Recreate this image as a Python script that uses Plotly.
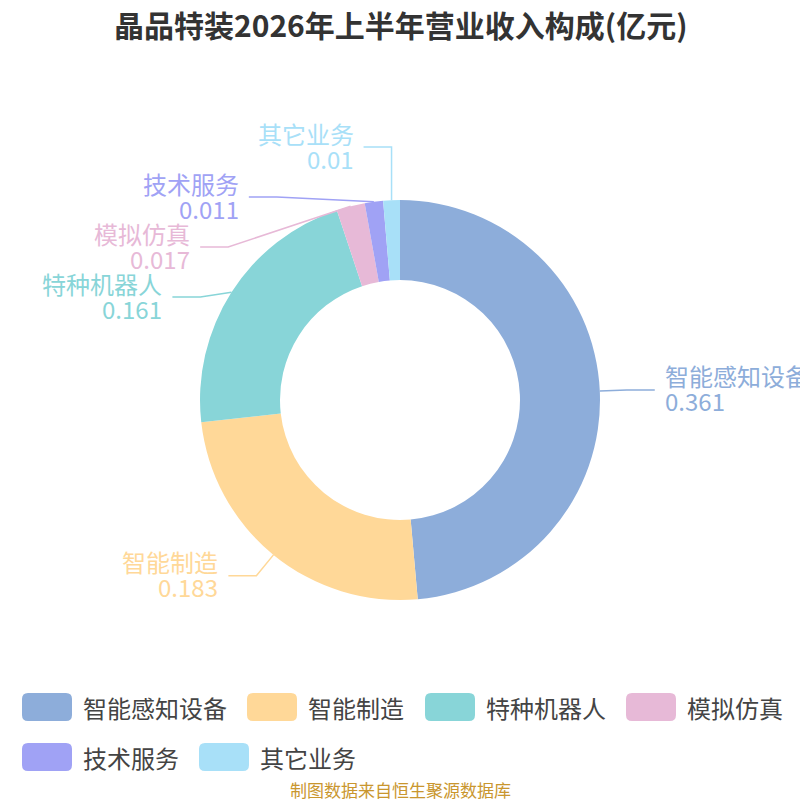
import math
import plotly.graph_objects as go

title = "晶品特装2026年上半年营业收入构成(亿元)"
labels = ["智能感知设备", "智能制造", "特种机器人", "模拟仿真", "技术服务", "其它业务"]
values = [0.361, 0.183, 0.161, 0.017, 0.011, 0.01]
value_text = ["0.361", "0.183", "0.161", "0.017", "0.011", "0.01"]
colors = ["#8DADDA", "#FFD898", "#88D5D8", "#E7B9D7", "#A0A2F5", "#A8E0F8"]
source = "制图数据来自恒生聚源数据库"

W, H = 800, 800
CX, CY, R = 400, 400, 200
FONT = "Noto Sans CJK SC"


def px(x):
    return x / W


def py(y):
    return 1 - y / H


fig = go.Figure()
fig.add_trace(go.Pie(
    labels=labels, values=values,
    hole=0.6, sort=False, direction="clockwise", rotation=0,
    marker=dict(colors=colors, line=dict(width=0)),
    textinfo="none", hoverinfo="label+value+percent",
    showlegend=False,
    domain=dict(x=[px(CX - R), px(CX + R)], y=[py(CY + R), py(CY - R)]),
))

# label placement (echarts-like: radial leg, then horizontal leg)
total = sum(values)
len1, len2, gap = 27, 28, 8
ra, rb = R + 20, R + 45
items = []
cum = 0
for i, v in enumerate(values):
    mid = (cum + v / 2) / total * 2 * math.pi
    cum += v
    ax, ay = CX + R * math.sin(mid), CY - R * math.cos(mid)
    ex, ey = CX + (R + len1) * math.sin(mid), CY - (R + len1) * math.cos(mid)
    side = 1 if math.sin(mid) >= 0 else -1
    items.append(dict(i=i, ax=ax, ay=ay, ex=ex, ey=ey, side=side, y0=ey))

min_gap, top_limit = 50, 147
for side in (1, -1):
    grp = sorted([it for it in items if it["side"] == side], key=lambda d: d["ey"])
    # relax overlaps
    for _ in range(50):
        for a, b in zip(grp, grp[1:]):
            d = b["ey"] - a["ey"]
            if d < min_gap:
                s = (min_gap - d) / 2
                a["ey"] -= s
                b["ey"] += s
    if grp and grp[0]["ey"] < top_limit:
        grp[0]["ey"] = top_limit
        for a, b in zip(grp, grp[1:]):
            if b["ey"] - a["ey"] < min_gap:
                b["ey"] = a["ey"] + min_gap
    for it in grp:
        if abs(it["ey"] - it["y0"]) > 0.5:
            dy = it["ey"] - CY
            if abs(dy) >= rb:
                it["ex"] = it["ax"]
            else:
                it["ex"] = CX + side * math.sqrt(1 - dy * dy / rb ** 2) * ra

for it in items:
    i, side = it["i"], it["side"]
    hx = it["ex"] + side * len2
    c = colors[i]
    fig.add_shape(type="path", xref="paper", yref="paper",
                  path=f"M {px(it['ax'])} {py(it['ay'])} L {px(it['ex'])} {py(it['ey'])} L {px(hx)} {py(it['ey'])}",
                  line=dict(color=c, width=1.5))
    tx = hx + side * gap
    anchor = "left" if side > 0 else "right"
    fig.add_annotation(x=px(tx), y=py(it["ey"] - 14), xref="paper", yref="paper",
                       text=labels[i], showarrow=False, xanchor=anchor, yanchor="middle",
                       font=dict(family=FONT, size=24, color=c))
    fig.add_annotation(x=px(tx), y=py(it["ey"] + 11), xref="paper", yref="paper",
                       text=value_text[i], showarrow=False, xanchor=anchor, yanchor="middle",
                       font=dict(family=FONT, size=24, color=c))

# custom legend with rounded swatches
legend_pos = [(22, 707), (247, 707), (425, 707), (626, 707), (22, 757), (199, 757)]
sw, sh, rr = 50, 28, 6
for (lx, ly), lab, c in zip(legend_pos, labels, colors):
    x0, x1, y0, y1 = lx, lx + sw, ly - sh / 2, ly + sh / 2
    path = (f"M {px(x0 + rr)} {py(y0)} L {px(x1 - rr)} {py(y0)} Q {px(x1)} {py(y0)} {px(x1)} {py(y0 + rr)} "
            f"L {px(x1)} {py(y1 - rr)} Q {px(x1)} {py(y1)} {px(x1 - rr)} {py(y1)} "
            f"L {px(x0 + rr)} {py(y1)} Q {px(x0)} {py(y1)} {px(x0)} {py(y1 - rr)} "
            f"L {px(x0)} {py(y0 + rr)} Q {px(x0)} {py(y0)} {px(x0 + rr)} {py(y0)} Z")
    fig.add_shape(type="path", xref="paper", yref="paper", path=path,
                  fillcolor=c, line=dict(width=0))
    fig.add_annotation(x=px(x1 + 9), y=py(ly), xref="paper", yref="paper", text=lab,
                       showarrow=False, xanchor="left", yanchor="middle",
                       font=dict(family=FONT, size=24, color="#444444"))

fig.add_annotation(x=0.5, y=py(24), xref="paper", yref="paper", text=f"<b>{title}</b>",
                   showarrow=False, xanchor="center", yanchor="middle",
                   font=dict(family=FONT, size=30, color="#333333"))
fig.add_annotation(x=0.5, y=py(789), xref="paper", yref="paper", text=source,
                   showarrow=False, xanchor="center", yanchor="middle",
                   font=dict(family=FONT, size=17, color="#C9962E"))

fig.update_layout(
    width=W, height=H,
    margin=dict(l=0, r=0, t=0, b=0),
    paper_bgcolor="white", plot_bgcolor="white",
)

fig.write_html("out.html", config={"displayModeBar": False},
               post_script="document.body.style.margin='0px';")
